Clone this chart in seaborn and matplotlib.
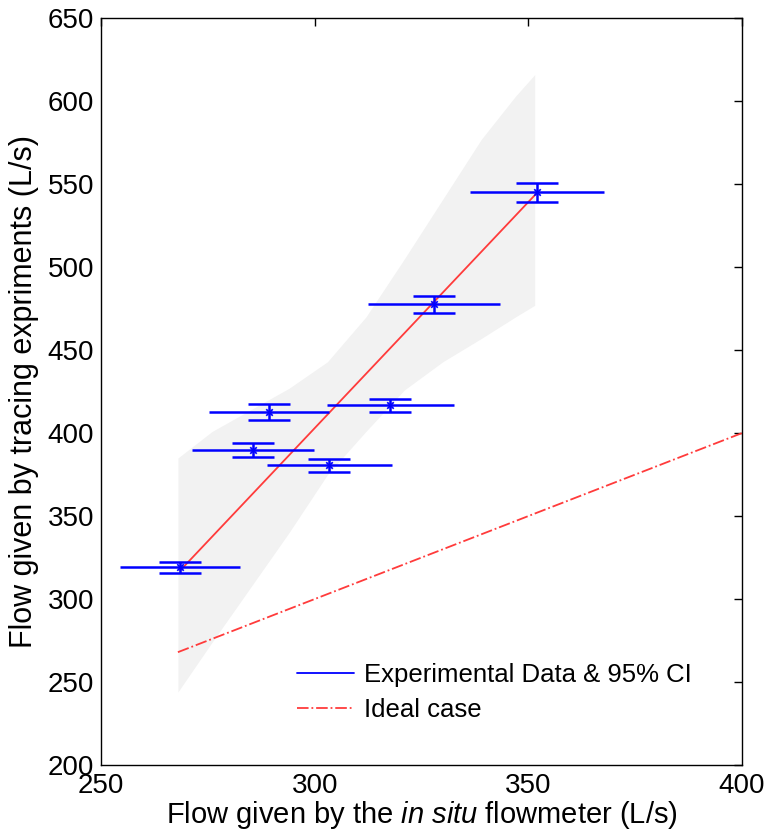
import numpy as np
import pandas as pd
import matplotlib
matplotlib.use("Agg")
import matplotlib.pyplot as plt
import seaborn as sns
from matplotlib.lines import Line2D

# Experimental points (flowmeter vs tracing)
flow_meter = [268.5, 285.6, 289.3, 303.4, 317.7, 328.0, 352.1]
flow_tracing = [319.3, 389.8, 412.7, 380.7, 416.9, 477.7, 545.2]
meter_err = [14.0, 14.3, 14.0, 14.6, 14.9, 15.4, 15.7]
tracing_err = [3.3, 4.2, 4.8, 3.9, 3.9, 5.1, 5.7]

# 95% CI band
band_x = [268, 276, 285, 294, 303, 312, 321, 330, 339, 347, 351.5]
band_upper = [385, 401, 414, 427, 443, 470, 505, 541, 577, 603, 616]
band_lower = [244, 274, 307, 340, 375, 401, 426, 443, 457, 470, 477]

# Ideal case y = x
ideal_x = [268, 400]
ideal_y = [268, 400]

df = pd.DataFrame({
    "meter": flow_meter,
    "tracing": flow_tracing,
    "xerr": meter_err,
    "yerr": tracing_err
})

sns.set_theme(style="white")
plt.rcParams["font.family"] = ["Liberation Sans", "DejaVu Sans"]
plt.rcParams["mathtext.fontset"] = "custom"
plt.rcParams["mathtext.rm"] = "Liberation Sans"
plt.rcParams["mathtext.it"] = "Liberation Sans:italic"
plt.rcParams["text.color"] = "black"
plt.rcParams["axes.labelcolor"] = "black"

fig = plt.figure(figsize=(7.68, 8.34), dpi=100)
ax = fig.add_axes([0.1315, 0.0827, 0.8346, 0.8955])

# CI band
ax.fill_between(band_x, band_lower, band_upper, color="#f2f2f2", lw=0, zorder=1)

# fit line (regression of meter on tracing, drawn over measured range)
b, a = np.polyfit(df["tracing"], df["meter"], 1)
fit_x = np.array([df["meter"].min(), df["meter"].max()])
fit_y = (fit_x - a) / b
sns.lineplot(x=fit_x, y=fit_y, color="#ff3b3b", lw=1.3, ax=ax, zorder=3)

# ideal line
sns.lineplot(x=ideal_x, y=ideal_y, color="#ff3b3b", lw=1.3, ls="-.", ax=ax, zorder=3)

# error bars
ax.errorbar(df["meter"], df["tracing"], xerr=df["xerr"], fmt="none",
            ecolor="blue", elinewidth=1.8, capsize=0, zorder=4)
ax.errorbar(df["meter"], df["tracing"], yerr=df["yerr"], fmt="none",
            ecolor="blue", elinewidth=1.8, capsize=15, capthick=1.8, zorder=4)
sns.scatterplot(data=df, x="meter", y="tracing", marker="x", color="blue",
                s=22, linewidth=1.2, ax=ax, zorder=5)

ax.set_xlim(250, 400)
ax.set_ylim(200, 650)
ax.set_xticks([250, 300, 350, 400])
ax.set_yticks(np.arange(200, 651, 50))
ax.tick_params(direction="in", length=6, width=1, top=True, right=True,
               labelsize=20, colors="black", labelcolor="black", pad=5)
ax.tick_params(axis="x", pad=6)
for s in ax.spines.values():
    s.set_color("black")
    s.set_linewidth(1)

ax.set_xlabel(r"Flow given by the $\it{in\ situ}$ flowmeter (L/s)", fontsize=21, labelpad=0)
ax.set_ylabel("Flow given by tracing expriments (L/s)", fontsize=22, labelpad=6)

handles = [
    Line2D([], [], color="blue", lw=1.3),
    Line2D([], [], color="#ff3b3b", lw=1.3, ls="-."),
]
ax.legend(handles, ["Experimental Data & 95% CI", "Ideal case"],
          loc="upper left", bbox_to_anchor=(0.27, 0.168), frameon=False,
          fontsize=18.5, handlelength=2.2, handletextpad=0.4, labelspacing=0.45)

plt.savefig("out.png", dpi=100)
plt.close()
